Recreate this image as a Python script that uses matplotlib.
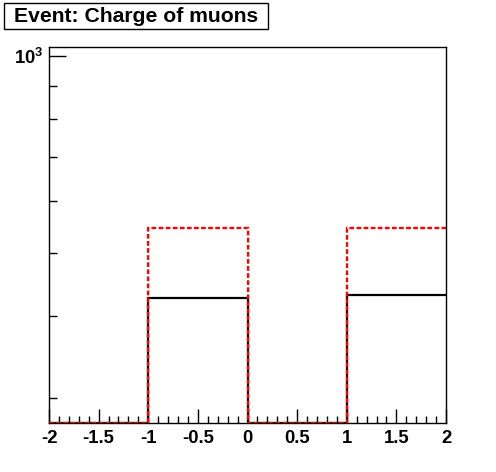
import numpy as np
import matplotlib
matplotlib.use("Agg")
import matplotlib.pyplot as plt
from matplotlib.patches import Rectangle
from matplotlib.ticker import FixedLocator, FixedFormatter, MultipleLocator

plt.rcParams['font.family'] = ['Liberation Sans', 'DejaVu Sans']
plt.rcParams['mathtext.fontset'] = 'custom'
plt.rcParams['mathtext.bf'] = 'Liberation Sans:bold'
plt.rcParams['mathtext.rm'] = 'Liberation Sans:bold'

title = "Event: Charge of muons"
bin_edges = [-2, -1, 0, 1, 2]
black_counts = [0, 427, 0, 431]
red_counts = [0, 546, 0, 546]
ymin, ymax = 275, 1032

W, H = 496, 472
fig = plt.figure(figsize=(W/100, H/100), dpi=100)
ax = fig.add_axes([49/W, 1-423/H, (446-49)/W, (423-47)/H])
ax.set_yscale('log')
ax.set_xlim(-2, 2)
ax.set_ylim(ymin, ymax)

def disp(v):
    return np.maximum(np.array(v, dtype=float), ymin)

e = np.array(bin_edges, dtype=float)
ax.stairs(disp(black_counts), e, baseline=None, color='black', lw=1.6, zorder=3)
ax.stairs(disp(red_counts), e, baseline=None, color='red', lw=1.7,
          linestyle=(0, (2, 1)), zorder=4)

for sp in ax.spines.values():
    sp.set_linewidth(1.0)

ax.xaxis.set_minor_locator(MultipleLocator(0.1))
ax.set_xticks([-2, -1.5, -1, -0.5, 0, 0.5, 1, 1.5, 2])
ax.set_xticklabels(['-2', '-1.5', '-1', '-0.5', '0', '0.5', '1', '1.5', '2'])
ax.tick_params(axis='x', which='major', direction='in', length=10, width=1, top=False,
               labelsize=13.3, pad=5)
ax.tick_params(axis='x', which='minor', direction='in', length=5, width=1, top=False)
for lbl in ax.get_xticklabels():
    lbl.set_fontweight('bold')

ax.yaxis.set_major_locator(FixedLocator([1000]))
ax.yaxis.set_major_formatter(FixedFormatter([r'$\mathbf{10^{3}}$']))
ax.yaxis.set_minor_locator(FixedLocator([300, 400, 500, 600, 700, 800, 900]))
ax.yaxis.set_minor_formatter(FixedFormatter([''] * 7))
ax.tick_params(axis='y', which='major', direction='in', length=12, width=1, right=False,
               labelsize=13.3, pad=4)
ax.tick_params(axis='y', which='minor', direction='in', length=6, width=1, right=False)

fig.patches.append(Rectangle((4/W, 1-29/H), (268-4)/W, (29-3)/H, transform=fig.transFigure,
                             facecolor='white', edgecolor='black', lw=1))
fig.text(14/W, 1-16.5/H, title, fontsize=15.2, fontweight='bold', va='center', ha='left')

fig.savefig('out.png', dpi=100)
